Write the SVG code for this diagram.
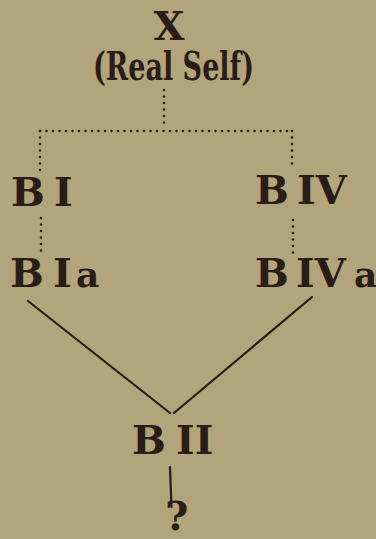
<svg xmlns="http://www.w3.org/2000/svg" width="376" height="539" viewBox="0 0 376 539">
<style>
.lbl{font-family:"DejaVu Serif","Liberation Serif",serif;font-weight:bold;fill:#2a1c16;font-size:40px}
.dot{fill:none;stroke:#2a1c16;stroke-width:2.6;stroke-linecap:round;stroke-dasharray:0 6.5}
.solid{fill:none;stroke:#2a1c16;stroke-width:2.2;stroke-linecap:round}
</style>
<rect width="376" height="539" fill="#b2a57c"/>
<g id="connectors">
<path class="dot" d="M164,90 V127"/>
<path class="dot" d="M40,131 H292"/>
<path class="dot" d="M40,131 V172"/>
<path class="dot" d="M292,131 V170"/>
<path class="dot" d="M41,218 V251"/>
<path class="dot" d="M293,220 V257"/>
<path class="solid" d="M28,301 L170,413"/>
<path class="solid" d="M312,297 L174,413"/>
<path class="solid" d="M170,467 L171.5,507"/>
</g>
<g id="X">
<text class="lbl" x="169" y="40" text-anchor="middle" font-size="39">X</text>
<text class="lbl" x="93" y="80" font-size="29" textLength="161" lengthAdjust="spacingAndGlyphs">(Real Self)</text>
</g>
<g id="BI"><text class="lbl" y="206"><tspan x="11">B</tspan><tspan x="54">I</tspan></text></g>
<g id="BIV"><text class="lbl" y="204"><tspan x="255">B</tspan><tspan x="297">IV</tspan></text></g>
<g id="BIa"><text class="lbl" y="287"><tspan x="10">B</tspan><tspan x="53">I</tspan><tspan x="76" font-size="36">a</tspan></text></g>
<g id="BIVa"><text class="lbl" y="287"><tspan x="255">B</tspan><tspan x="296">IV</tspan><tspan x="354" font-size="36">a</tspan></text></g>
<g id="BII"><text class="lbl" y="454"><tspan x="132">B</tspan><tspan x="176">II</tspan></text></g>
<g id="Q"><text class="lbl" x="165" y="530" font-size="34">?</text></g>
</svg>
